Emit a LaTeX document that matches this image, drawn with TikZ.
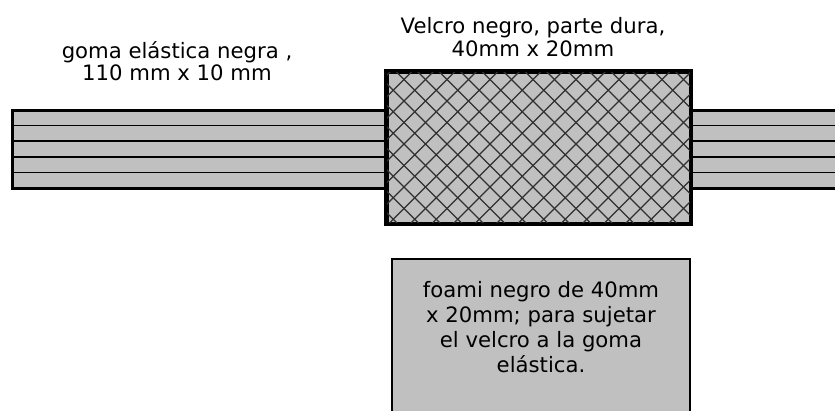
\documentclass[tikz,border=0pt]{standalone}
\usepackage{fontspec}
\setmainfont{DejaVu Sans}
\definecolor{padgray}{HTML}{C0C0C0}
\definecolor{hatchgray}{HTML}{303030}
\begin{document}
\begin{tikzpicture}[x=1pt,y=-1pt,
    lbl/.style={align=center,inner sep=0pt,font=\fontsize{21.2}{23}\selectfont},
    hatch/.style={draw=hatchgray,line width=1.1}]
        \useasboundingbox (0,0) rectangle (835,410);
        %% Elastic band
        \fill[padgray] (12,110) rectangle (840,188);
        \foreach \y in {125.6,141.2,156.8,172.4}
            \draw[line width=1.7] (12,\y) -- (840,\y);
        \draw[line width=3] (840,110) -- (12,110) -- (12,188) -- (840,188);
        %% Velcro
        \node[draw,line width=3,fill=padgray,inner sep=0,minimum width=303,minimum height=151] (velcro) at (538.5,147.5) {};
        \begin{scope}
            \clip (velcro.south west) rectangle (velcro.north east);
            \foreach \k in {-8,...,20} {
                \draw[hatch] (363+\k*21.5,60) -- ++(180,180);
                \draw[hatch] (445+\k*21.5,60) -- ++(-180,180);
            }
        \end{scope}
        \draw[line width=3] (velcro.south west) rectangle (velcro.north east);
        %% Foam
        \node[draw,line width=2.5,fill=padgray,inner sep=0,minimum width=298,minimum height=153] (foam) at (541,335.5) {};
        \node[lbl,font=\fontsize{21.2}{25}\selectfont] (foamtxt) at (541,327) {foami negro de 40mm\\x 20mm; para sujetar\\el velcro a la goma\\elástica.};
        %% Labels
        \node[lbl,font=\fontsize{21.2}{21.5}\selectfont] (gomalbl) at (177,61) {goma elástica negra ,\\110 mm x 10 mm};
        \node[lbl] (velcrolbl) at (533,37) {Velcro negro, parte dura,\\40mm x 20mm};
\end{tikzpicture}
\end{document}
